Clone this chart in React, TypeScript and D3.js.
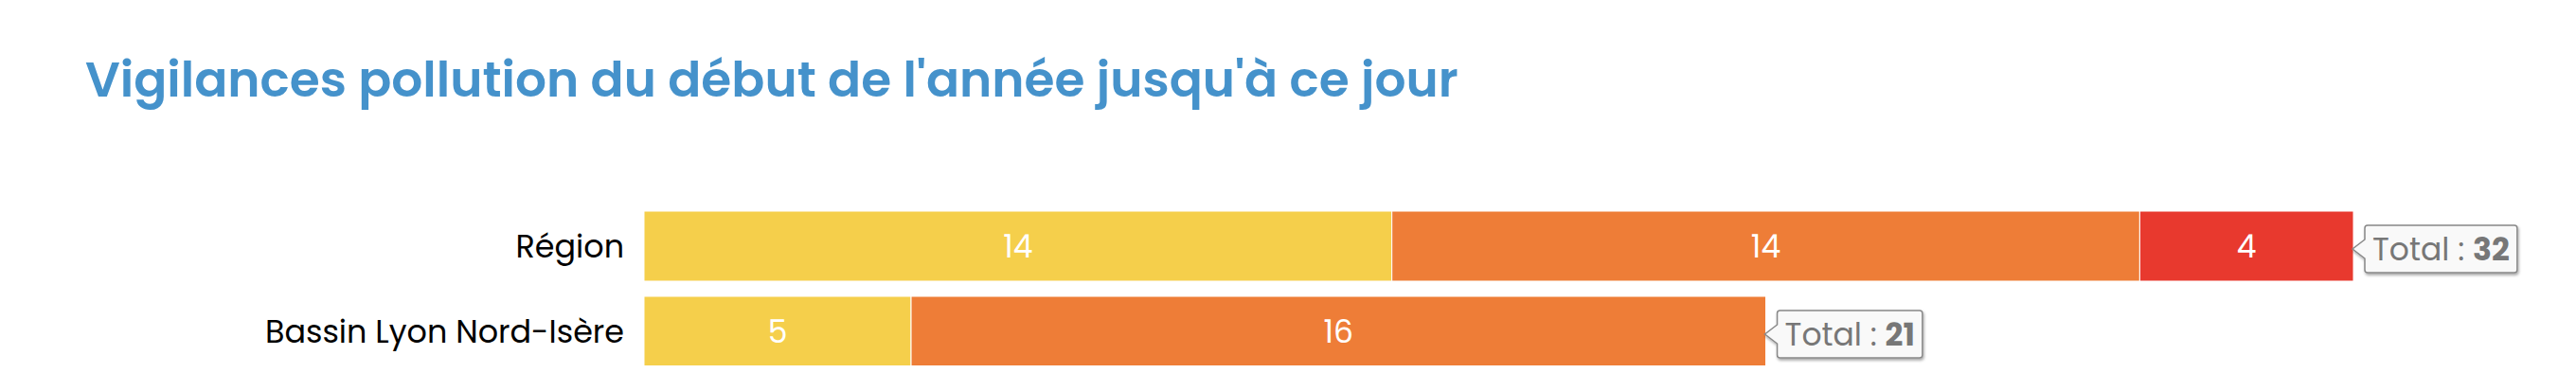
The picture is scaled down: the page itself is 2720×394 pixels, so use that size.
import * as d3 from "d3";
import { useEffect, useRef } from "react";

const categories = ["Région", "Bassin Lyon Nord-Isère"];
const seriesNames = ["Jaune", "Orange", "Rouge"];
const jaune = [14, 5];
const orange = [14, 16];
const rouge = [4, 0];
const colors = ["#f5cf4b", "#ee7d37", "#e8392e"];
const title = "Vigilances pollution du début de l'année jusqu'à ce jour";

const W = 2720;
const H = 394;
const FONT = "Poppins, 'Open Sans', sans-serif";

export default function App() {
  const svgRef = useRef(null);

  useEffect(() => {
    const svg = d3.select(svgRef.current);
    svg.selectAll("*").remove();

    const series = [jaune, orange, rouge];
    const rows = categories.map((c, i) => {
      const r: any = { cat: c };
      seriesNames.forEach((s, k) => (r[s] = series[k][i]));
      r.total = d3.sum(series, (v) => v[i]);
      return r;
    });
    const stacked = d3.stack().keys(seriesNames)(rows);

    const x = d3.scaleLinear().domain([0, 32]).range([680, 2485]);
    const y = d3
      .scaleBand()
      .domain(categories)
      .range([215, 395])
      .paddingInner(0.178)
      .paddingOuter(0.089);

    // shadow for tooltip
    const defs = svg.append("defs");
    const f = defs
      .append("filter")
      .attr("id", "shadow")
      .attr("x", "-20%")
      .attr("y", "-20%")
      .attr("width", "140%")
      .attr("height", "150%");
    f.append("feDropShadow")
      .attr("dx", 1)
      .attr("dy", 2)
      .attr("stdDeviation", 1.5)
      .attr("flood-color", "#000")
      .attr("flood-opacity", 0.35);

    svg
      .append("text")
      .attr("x", 90)
      .attr("y", 102)
      .attr("font-family", FONT)
      .attr("font-size", 51.8)
      .attr("font-weight", 600)
      .attr("fill", "#4592cb")
      .text(title);

    // category labels
    svg
      .append("g")
      .selectAll("text")
      .data(categories)
      .join("text")
      .attr("x", 659)
      .attr("y", (d) => y(d)! + y.bandwidth() / 2)
      .attr("dy", "0.35em")
      .attr("text-anchor", "end")
      .attr("font-family", FONT)
      .attr("font-size", 33.4)
      .attr("fill", "#000")
      .text((d) => d);

    stacked.forEach((layer, k) => {
      const g = svg.append("g");
      const pts = layer.filter((d) => d[1] - d[0] > 0);
      g.selectAll("rect")
        .data(pts)
        .join("rect")
        .attr("x", (d) => x(d[0]))
        .attr("y", (d) => y(d.data.cat)!)
        .attr("width", (d) => x(d[1]) - x(d[0]))
        .attr("height", y.bandwidth())
        .attr("fill", colors[k])
        .attr("stroke", "#fff")
        .attr("stroke-width", 1);
      g.selectAll("text")
        .data(pts)
        .join("text")
        .attr("x", (d) => (x(d[0]) + x(d[1])) / 2)
        .attr("y", (d) => y(d.data.cat)! + y.bandwidth() / 2)
        .attr("dy", "0.35em")
        .attr("text-anchor", "middle")
        .attr("font-family", FONT)
        .attr("font-size", 33)
        .attr("fill", "#fff")
        .text((d) => d[1] - d[0]);
    });

    // total callouts
    rows.forEach((r) => {
      const tipX = x(r.total);
      const cy = y(r.cat)! + y.bandwidth() / 2 + 3;
      const g = svg.append("g");
      const path = g.append("path");
      const t = g
        .append("text")
        .attr("x", tipX + 20)
        .attr("y", cy)
        .attr("dy", "0.35em")
        .attr("font-family", FONT)
        .attr("font-size", 33)
        .attr("fill", "#777");
      t.append("tspan").text("Total : ");
      t.append("tspan").attr("font-weight", 700).text(r.total);
      const tw = (t.node() as SVGTextElement).getComputedTextLength();
      const bx = tipX + 12;
      const bw = tw + 16;
      const bt = cy - 25;
      const bb = cy + 25;
      const rr = 3;
      const p = d3.path();
      p.moveTo(bx + rr, bt);
      p.lineTo(bx + bw - rr, bt);
      p.quadraticCurveTo(bx + bw, bt, bx + bw, bt + rr);
      p.lineTo(bx + bw, bb - rr);
      p.quadraticCurveTo(bx + bw, bb, bx + bw - rr, bb);
      p.lineTo(bx + rr, bb);
      p.quadraticCurveTo(bx, bb, bx, bb - rr);
      p.lineTo(bx, cy + 10);
      p.lineTo(tipX - 1, cy);
      p.lineTo(bx, cy - 10);
      p.lineTo(bx, bt + rr);
      p.quadraticCurveTo(bx, bt, bx + rr, bt);
      p.closePath();
      path
        .attr("d", p.toString())
        .attr("fill", "#f9f9f9")
        .attr("stroke", "#888")
        .attr("stroke-width", 1.5)
        .attr("filter", "url(#shadow)");
    });
  }, []);

  return (
    <div style={{ margin: -8 }}>
      <svg ref={svgRef} width={W} height={H} style={{ display: "block" }}></svg>
    </div>
  );
}
